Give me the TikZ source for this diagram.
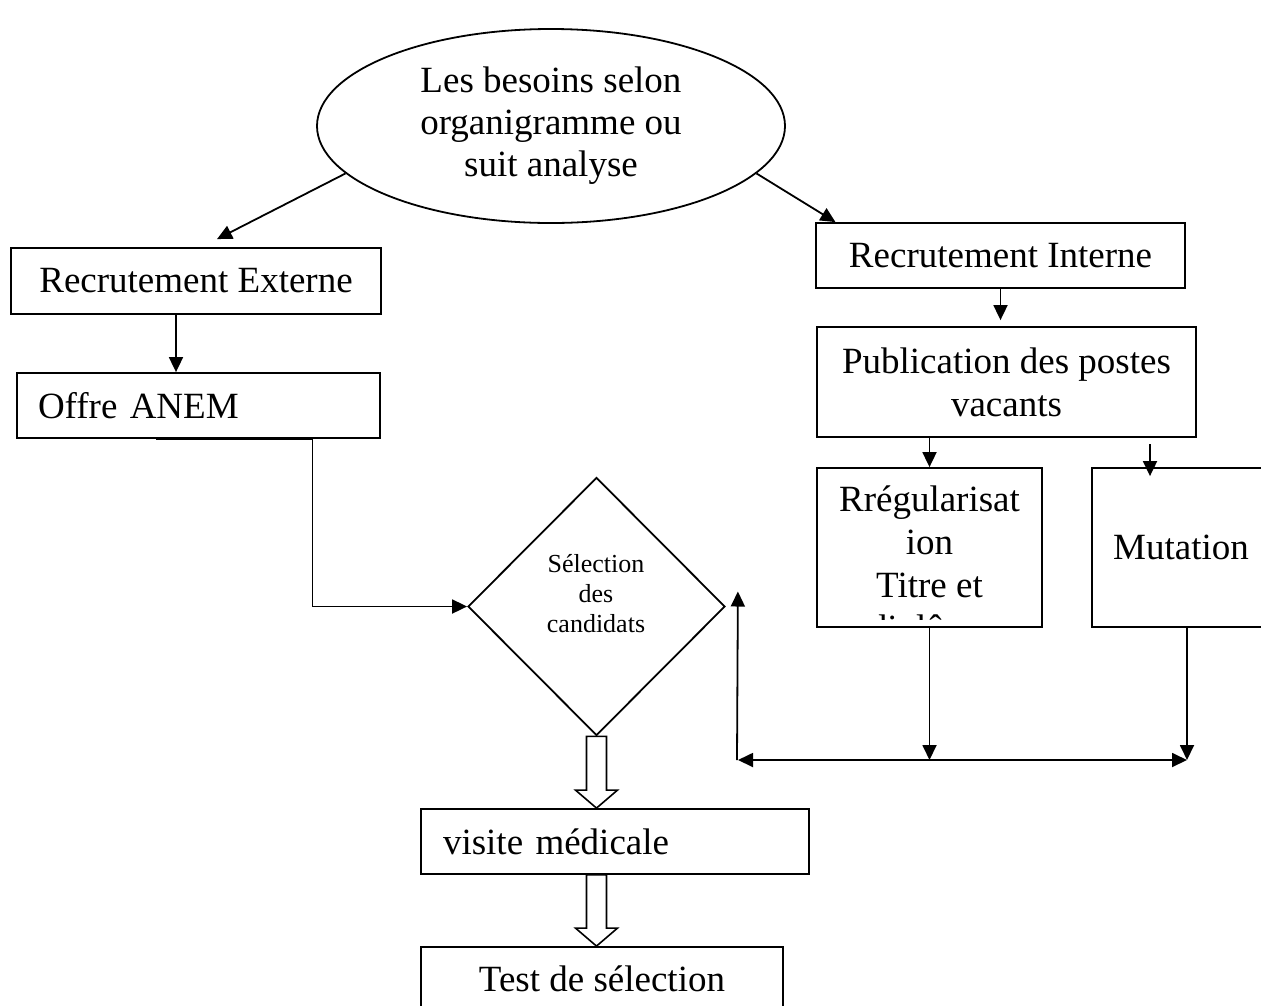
\documentclass[tikz,border=0pt]{standalone}
\usepackage{fontspec}
\setmainfont{Liberation Serif}
\usetikzlibrary{arrows.meta, positioning, shapes.geometric, calc}

% big hollow arrow going down from #1 to #2
\newcommand{\hollowarrow}[2]{%
  \draw[line width=1.6pt, fill=white] let \p1=(#1), \p2=(#2) in
    (\x1-10pt,\y1) -- (\x1+10pt,\y1) -- (\x1+10pt,\y2+18pt) -- (\x1+21pt,\y2+18pt)
    -- (\x1,\y2) -- (\x1-21pt,\y2+18pt) -- (\x1-10pt,\y2+18pt) -- cycle;}

\begin{document}
\begin{tikzpicture}[
  x=1pt, y=-1pt,
  box/.style={draw, rectangle, line width=1.8pt, inner sep=0pt, align=center, font=\fontsize{37}{43}\selectfont},
  bubble/.style={draw, ellipse, line width=1.8pt, inner sep=0pt, align=center, font=\fontsize{37}{42}\selectfont},
  choice/.style={draw, diamond, aspect=1, line width=1.8pt, inner sep=0pt},
  arrow/.style={-{Triangle[length=15pt,width=14pt]}, line width=1.8pt},
  twoway/.style={{Triangle[length=15pt,width=14pt]}-{Triangle[length=15pt,width=14pt]}, line width=1.8pt}
]
\useasboundingbox (0,0) rectangle (1261,1005);

\node[bubble, minimum width=468pt, minimum height=194pt] (need) at (551,126) {Les besoins selon\\organigramme ou\\suit analyse};
\node[box, minimum width=370pt, minimum height=66pt] (ext) at (196,281) {Recrutement Externe};
\node[box, minimum width=363pt, minimum height=65pt, text width=321pt, inner xsep=21pt, align=left] (anem) at (198.5,405.5) {Offre ANEM};
\node[box, minimum width=369pt, minimum height=65pt] (int) at (1000.5,255.5) {Recrutement Interne};
\node[box, minimum width=379pt, minimum height=110pt] (pub) at (1006.5,382) {Publication des postes\\vacants};
\node[box, minimum width=225pt, minimum height=159pt] (rreg) at (929.5,547.5) {};
\node[box, minimum width=178pt, minimum height=159pt] (mut) at (1181,547.5) {Mutation};
\node[choice, minimum width=257pt, minimum height=258pt] (sel) at (596.5,606.5) {};
\node[align=center, inner sep=0pt, font=\fontsize{26}{30}\selectfont] (seltxt) at (596,594) {Sélection\\des\\candidats};
\node[box, minimum width=388pt, minimum height=65pt, text width=344pt, inner xsep=22pt, align=left] (visite) at (615,841.5) {visite médicale};
\node[box, minimum width=362pt, minimum height=63pt] (test) at (602,978.5) {Test de sélection};

% text of the box cut at its bottom
\begin{scope}
  \clip (rreg.north west) rectangle ([yshift=8pt]rreg.south east);
  \node[align=center, anchor=north, inner sep=0pt, font=\fontsize{37}{43}\selectfont] (rregtxt) at (929.5,486) {Rrégularisat\\ion\\Titre et\\diplôme};
\end{scope}

\coordinate (jl) at (737,760);
\coordinate (jr) at (1187,760);

\draw[arrow] (need.193) -- ([xshift=21pt,yshift=8pt]ext.north);
\draw[arrow] (need.347) -- ([xshift=-165pt]int.north);
\draw[arrow] ([xshift=-20pt]ext.south) -- ([xshift=-20pt]ext.south |- anem.north);
\draw[arrow] ([xshift=-43pt]anem.south) -- ++(157,0) |- (sel.west);
\draw[arrow, shorten >=6pt] (int.south) -- (int.south |- pub.north);
\draw[arrow] (rreg.north |- pub.south) -- (rreg.north);
\draw[arrow] ([xshift=-31pt,yshift=23pt]mut.north) -- ([xshift=-31pt,yshift=-9pt]mut.north);
\draw[arrow] (rreg.south) -- (rreg.south |- jl);
\draw[arrow] (jr |- mut.south) -- (jr);
\draw[twoway] ([xshift=1pt]jl) -- (jr);
\draw[arrow] (jl) -- ([xshift=12pt,yshift=15pt]sel.east);

\hollowarrow{sel.south}{sel.south |- visite.north}
\hollowarrow{sel.south |- visite.south}{sel.south |- test.north}
\end{tikzpicture}
\end{document}
